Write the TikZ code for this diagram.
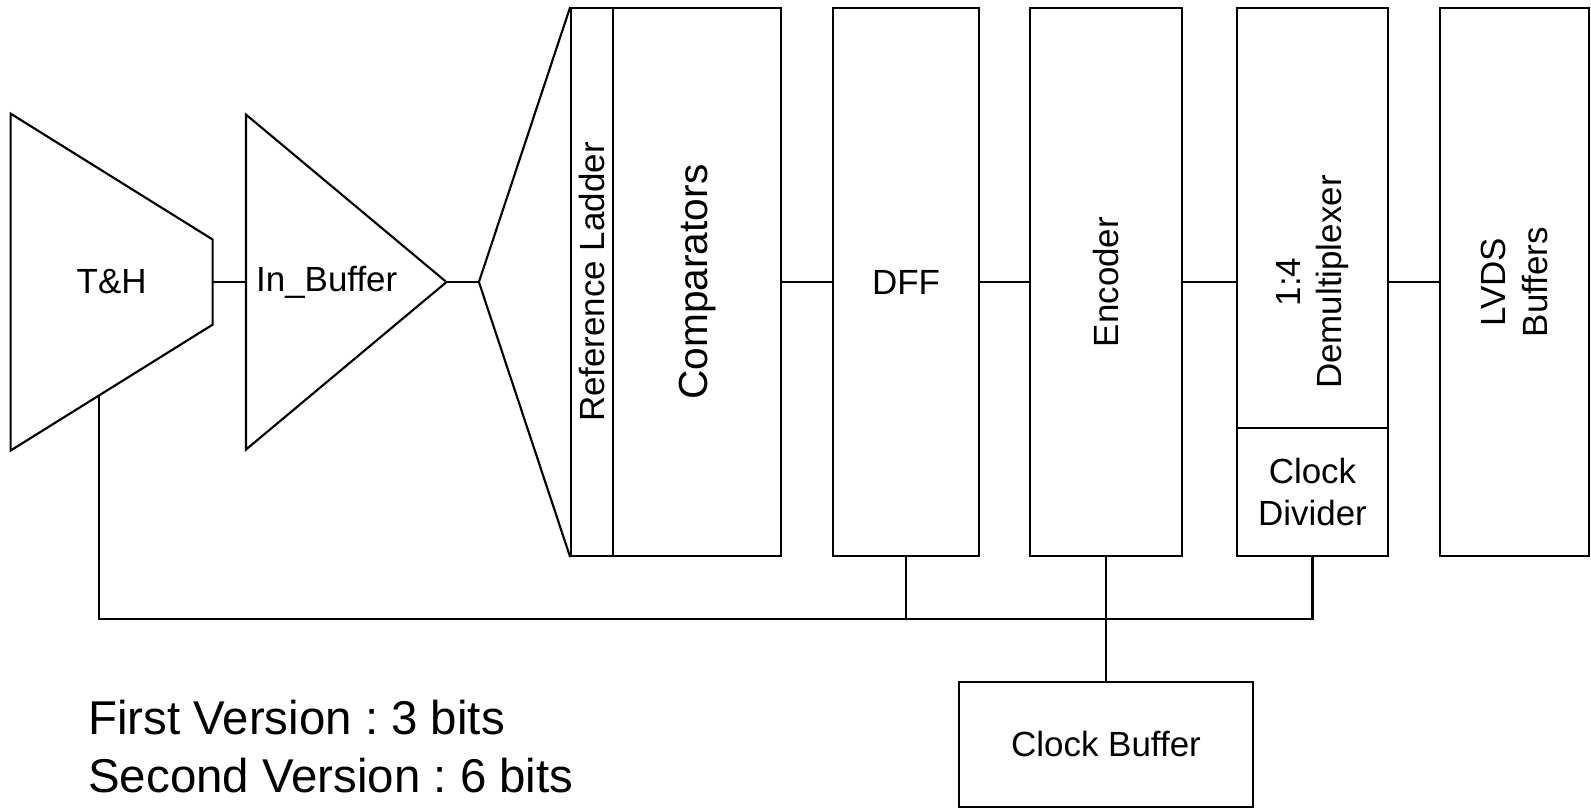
\documentclass[tikz,border=0pt]{standalone}
\usepackage{fontspec}
\setmainfont{Liberation Sans}
\usetikzlibrary{positioning,calc}
\frenchspacing

\begin{document}
\begin{tikzpicture}[
  x=0.1mm, y=-0.1mm, line width=0.6pt,
  block/.style={draw, inner sep=0pt, minimum height=54mm},
  lbl/.style={font=\fontsize{9.8}{11.7}\selectfont, align=center, inner sep=0pt},
  vlbl/.style={lbl, rotate=90}
]
\useasboundingbox (0,0) rectangle (1568,796);
\draw (10.5,112) -- (209.5,236) -- (209.5,320) -- (10.5,444) -- cycle;
\node[lbl] (th) at (110,278) {T\&H};
\coordinate (th-out) at (209.5,278);
\coordinate (th-clk) at (97.5,390);
\draw (242.5,113) -- (440,278) -- (242.5,443) -- cycle;
\node[lbl] (ib) at (322,278) {In\_Buffer};
\coordinate (ib-in) at (242.5,278);
\coordinate (ib-out) at (440,278);
\coordinate (fan) at (472,278);
\node[block, minimum width=4.1mm] (refl) at (583.5,278) {};
\node[vlbl] (refl-t) at (refl) {Reference Ladder};
\node[block, minimum width=16.6mm] (comp) at (687,278) {};
\node[vlbl, font=\fontsize{11.4}{13.7}\selectfont] (comp-t) at (comp) {Comparators};
\node[block, minimum width=14.4mm] (dff) at (893,278) {};
\node[lbl] (dff-t) at (dff) {DFF};
\node[block, minimum width=15mm] (enc) at (1090,278) {};
\node[vlbl] (enc-t) at (enc) {Encoder};
\node[block, minimum width=14.9mm, minimum height=41.4mm] (demux) at (1293.5,215) {};
\node[vlbl] (demux-t) at (demux |- comp) {1:4\\Demultiplexer};
\node[block, minimum width=14.9mm, minimum height=12.6mm] (clkdiv) at (1293.5,485) {};
\node[lbl] (clkdiv-t) at (clkdiv) {Clock\\Divider};
\node[block, minimum width=14.7mm] (lvds) at (1492.5,278) {};
\node[vlbl] (lvds-t) at (lvds) {LVDS\\Buffers};
\node[block, minimum width=29mm, minimum height=12.3mm] (clkbuf) at (1090,733.5) {};
\node[lbl] (clkbuf-t) at (clkbuf) {Clock Buffer};
\coordinate (bus) at ($(enc.south)!0.5!(clkbuf.north)$);
\node[anchor=base west, align=left, inner sep=0pt,
      font=\fontsize{13.3}{16.2}\selectfont] (ver) at (86,781)
  {First Version : 3 bits\\Second Version : 6 bits};
\draw (th-out) -- (ib-in);
\draw (ib-out) -- (fan);
\draw (fan) -- (refl.north west);
\draw (fan) -- (refl.south west);
\draw (comp.east) -- (dff.west);
\draw (dff.east) -- (enc.west);
\draw (enc.east) -- (enc.east -| demux.west);
\draw (demux.east |- lvds.west) -- (lvds.west);
\draw (th-clk) |- (bus -| clkdiv.south) -- (clkdiv.south);
\draw (dff.south) -- (dff.south |- bus);
\draw (enc.south) -- (clkbuf.north);
\end{tikzpicture}
\end{document}
